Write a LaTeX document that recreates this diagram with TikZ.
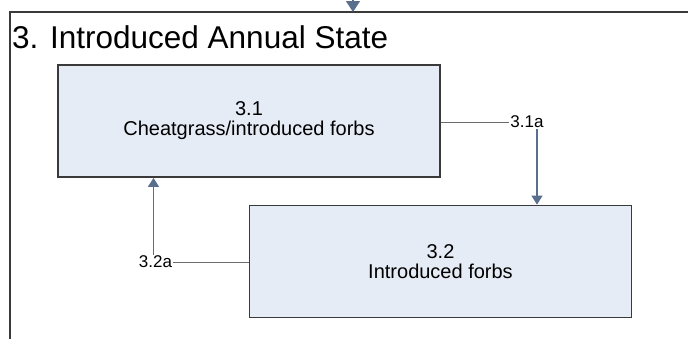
\documentclass[tikz,border=0pt]{standalone}
\usepackage{fontspec}
\setmainfont{Liberation Sans}
\usepackage{xcolor}
\usetikzlibrary{positioning,arrows.meta}
\definecolor{boxfill}{HTML}{E6ECF6}
\definecolor{boxline}{HTML}{3A3A3A}
\definecolor{arrowblue}{HTML}{5A6E8E}

\begin{document}
\begin{tikzpicture}[x=1pt, y=-1pt,
                    state/.style={draw=boxline, line width=1.8pt, fill=boxfill,
                                  minimum width=382pt, minimum height=112pt,
                                  align=center, font=\fontsize{20}{20}\selectfont},
                    lbl/.style={font=\fontsize{17}{18}\selectfont, inner sep=1pt},
                    link/.style={draw=gray!85!black, line width=0.9pt},
                    trans/.style={draw=arrowblue, line width=1.2pt,
                                  -{Triangle[width=11pt,length=9pt]}}]
                \clip (0,0) rectangle (688,338);
                \fill[white] (0,0) rectangle (688,338);
                % frame of the state
                \draw[boxline, line width=2pt] (10,360) |- (720,12);
                \coordinate (above) at (353,-20);
                \coordinate (intop) at (353,12);
                \draw[trans, -{Triangle[width=14pt,length=11pt]}] (above) -- (intop);
                \node[anchor=base west, inner sep=0pt, font=\fontsize{31.5}{34}\selectfont]
                    (title) at (12,48) {3. Introduced Annual State};
                % communities
                \node[state] (s31) at (249,121) {3.1\\Cheatgrass/introduced forbs};
                \node[state] (s32) at (440.5,261.5) {3.2\\Introduced forbs};
                % transitions
                \node[lbl] (l31a) at (527,122) {3.1a};
                \node[lbl] (l32a) at (155.5,262) {3.2a};
                \draw[link] (s31.east |- l31a.west) -- (l31a.west);
                \draw[trans] ([xshift=10pt]l31a.south) -- ([xshift=10pt]l31a.south |- s32.north);
                \draw[link] (s32.west |- l32a.east) -- (l32a.east);
                \draw[trans] ([xshift=-2pt]l32a.north) -- ([xshift=-2pt]l32a.north |- s31.south);
            \end{tikzpicture}
\end{document}
